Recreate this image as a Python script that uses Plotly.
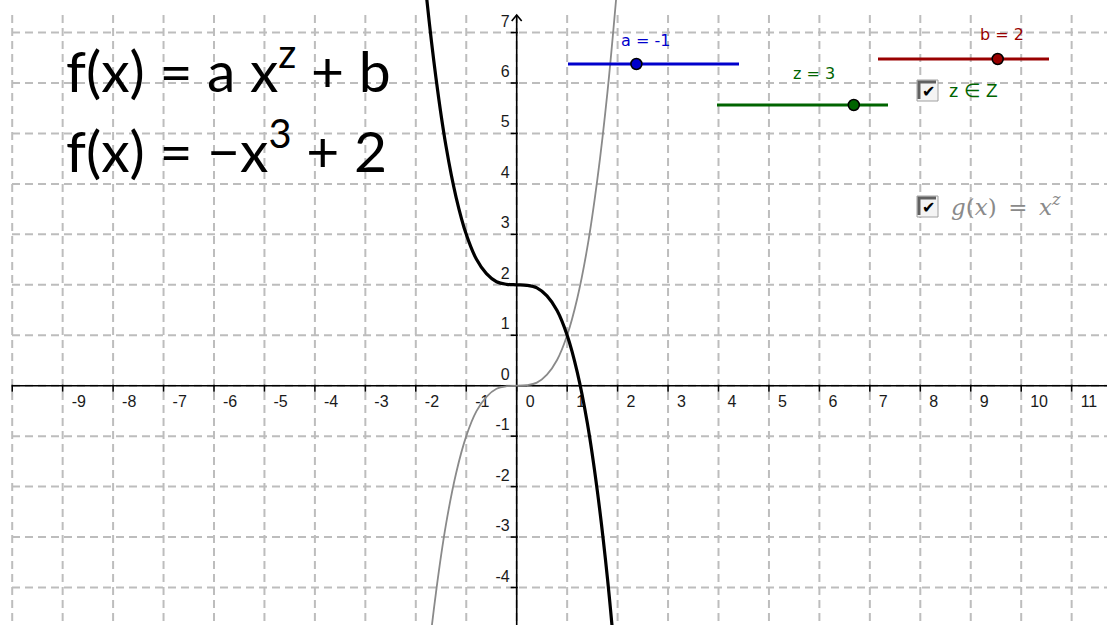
import plotly.graph_objects as go

W, H = 1107, 625
SCALE = 50.45                 # screen pixels per unit
X0_PX, Y0_PX = 516.7, 385.7   # where the origin sits on screen

# samples of the two curves
xs = [-2.0, -1.8, -1.6, -1.4, -1.2, -1.0, -0.8, -0.6, -0.4, -0.2, 0.0,
      0.2, 0.4, 0.6, 0.8, 1.0, 1.2, 1.4, 1.6, 1.8, 2.0]
f_vals = [10.0, 7.83, 6.10, 4.74, 3.73, 3.0, 2.51, 2.22, 2.06, 2.01, 2.0,
          1.99, 1.94, 1.78, 1.49, 1.0, 0.27, -0.74, -2.10, -3.83, -6.0]
g_vals = [-8.0, -5.83, -4.10, -2.74, -1.73, -1.0, -0.51, -0.22, -0.06, -0.01, 0.0,
          0.01, 0.06, 0.22, 0.51, 1.0, 1.73, 2.74, 4.10, 5.83, 8.0]

x_ticks = list(range(-10, 12))
x_labels = [str(v) for v in range(-9, 12)]
y_ticks = list(range(-4, 8))
y_labels = [str(v) for v in range(-4, 8)]

slider_names = ['a', 'z', 'b']
slider_min = [-5, -5, -5]
slider_max = [5, 5, 5]
slider_vals = [-1, 3, 2]
slider_colors = ['#0000cc', '#006400', '#990000']

formula_lines = ['f(x) = a x<sup>z</sup> + b', 'f(x) = \u2212x<sup>3</sup> + 2']


def ux(px):
    return (px - X0_PX) / SCALE


def uy(py):
    return (Y0_PX - py) / SCALE


fig = go.Figure()

# grid (dashed) and axes
shapes = []
grid = dict(color='#bdbdbd', width=2, dash='8px,5px')
for t in x_ticks:
    shapes.append(dict(type='line', layer='below', x0=t, x1=t, y0=uy(15), y1=uy(H), line=grid))
for t in y_ticks:
    shapes.append(dict(type='line', layer='below', x0=ux(12), x1=ux(W), y0=t, y1=t, line=grid))

axis = dict(color='black', width=1.6)
shapes.append(dict(type='line', layer='below', x0=ux(12), x1=ux(W), y0=0, y1=0, line=axis))
shapes.append(dict(type='line', layer='below', x0=0, x1=0, y0=uy(15), y1=uy(H), line=axis))
shapes.append(dict(type='path', layer='below', line=axis,
                   path=f'M {ux(X0_PX-5)} {uy(21)} L 0 {uy(15)} L {ux(X0_PX+5)} {uy(21)}'))
for t in x_ticks:
    shapes.append(dict(type='line', layer='below', x0=t, x1=t, y0=uy(Y0_PX-1), y1=uy(Y0_PX+6), line=axis))
for t in y_ticks:
    if t != 0:
        shapes.append(dict(type='line', layer='below', x0=ux(X0_PX-6), x1=ux(X0_PX+1), y0=t, y1=t, line=axis))

# tick labels (under the curves, like the original)
tick_font = dict(family='Liberation Sans, Arial', size=16, color='#1a1a1a')
fig.add_trace(go.Scatter(x=[v + 9 / SCALE for v in range(-9, 12)], y=[-17 / SCALE] * len(x_labels),
                         mode='text', text=x_labels, textposition='middle right',
                         textfont=tick_font, hoverinfo='skip', showlegend=False))
fig.add_trace(go.Scatter(x=[-7 / SCALE] * len(y_labels), y=[v + 10 / SCALE for v in y_ticks],
                         mode='text', text=y_labels, textposition='middle left',
                         textfont=tick_font, hoverinfo='skip', showlegend=False))

# g(x) = x^z and f(x) = a x^z + b
fig.add_trace(go.Scatter(x=xs, y=g_vals, mode='lines', line=dict(color='#8a8a8a', width=1.8, shape='spline'),
                         hoverinfo='skip', showlegend=False))
fig.add_trace(go.Scatter(x=xs, y=f_vals, mode='lines', line=dict(color='black', width=3.2, shape='spline'),
                         hoverinfo='skip', showlegend=False))

# sliders
slider_left_px = [568, 717, 878]
slider_y_px = [64, 105, 59]
slider_len = 171
label_pos_px = [(645, 40), (814, 73), (1002, 34)]
annotations = []
for i, name in enumerate(slider_names):
    x_start, y_line = slider_left_px[i], slider_y_px[i]
    frac = (slider_vals[i] - slider_min[i]) / (slider_max[i] - slider_min[i])
    fig.add_trace(go.Scatter(x=[ux(x_start), ux(x_start + slider_len)], y=[uy(y_line)] * 2,
                             mode='lines', line=dict(color=slider_colors[i], width=3),
                             hoverinfo='skip', showlegend=False))
    fig.add_trace(go.Scatter(x=[ux(x_start + frac * slider_len)], y=[uy(y_line)], mode='markers',
                             marker=dict(size=11, color=slider_colors[i], line=dict(color='black', width=1.5)),
                             hoverinfo='skip', showlegend=False))
    lx, ly = label_pos_px[i]
    annotations.append(dict(x=lx / W, y=1 - ly / H, xref='paper', yref='paper', showarrow=False,
                            text=f'{name} = {slider_vals[i]}', xanchor='center', yanchor='middle',
                            font=dict(family='DejaVu Sans', size=16, color=slider_colors[i])))

# check boxes
for left, top in [(917, 80), (917, 196)]:
    shapes.append(dict(type='rect', xref='paper', yref='paper', x0=left / W, x1=(left + 21) / W,
                       y0=1 - (top + 21) / H, y1=1 - top / H, fillcolor='#f4f4f4',
                       line=dict(color='#a0a0a0', width=1)))
    shapes.append(dict(type='path', xref='paper', yref='paper', line=dict(color='#606060', width=3),
                       path=f'M {(left + 2) / W} {1 - (top + 19) / H} L {(left + 2) / W} {1 - (top + 2) / H} '
                            f'L {(left + 19) / W} {1 - (top + 2) / H}'))
    annotations.append(dict(x=(left + 11.5) / W, y=1 - (top + 11.5) / H, xref='paper', yref='paper',
                            showarrow=False, text='\u2714', xanchor='center', yanchor='middle',
                            font=dict(family='DejaVu Sans', size=16, color='black')))

annotations.append(dict(x=947 / W, y=1 - 91 / H, xref='paper', yref='paper', showarrow=False,
                        text='z \u2208 Z', xanchor='left', yanchor='middle',
                        font=dict(family='Liberation Sans, Arial', size=19, color='#006400')))
annotations.append(dict(x=949 / W, y=1 - 205 / H, xref='paper', yref='paper', showarrow=False,
                        text='<i>g</i>(<i>x</i>)\u2002=\u2002<i>x<sup>z</sup></i>', xanchor='left', yanchor='middle',
                        font=dict(family='DejaVu Serif', size=23, color='#8a8a8a')))

# big formula text
for i, line in enumerate(formula_lines):
    annotations.append(dict(x=64 / W, y=1 - (67 + 80 * i) / H, xref='paper', yref='paper', showarrow=False,
                            text=line, xanchor='left', yanchor='middle',
                            font=dict(family='Lato', size=57, color='black')))

fig.update_layout(
    width=W, height=H,
    margin=dict(l=0, r=0, t=0, b=0),
    paper_bgcolor='white', plot_bgcolor='white',
    xaxis=dict(range=[ux(0), ux(W)], visible=False, fixedrange=True),
    yaxis=dict(range=[uy(H), uy(0)], visible=False, fixedrange=True),
    shapes=shapes, annotations=annotations,
    showlegend=False,
)

fig.write_html("out.html", config={'displayModeBar': False},
               post_script="document.body.style.margin='0px';")
